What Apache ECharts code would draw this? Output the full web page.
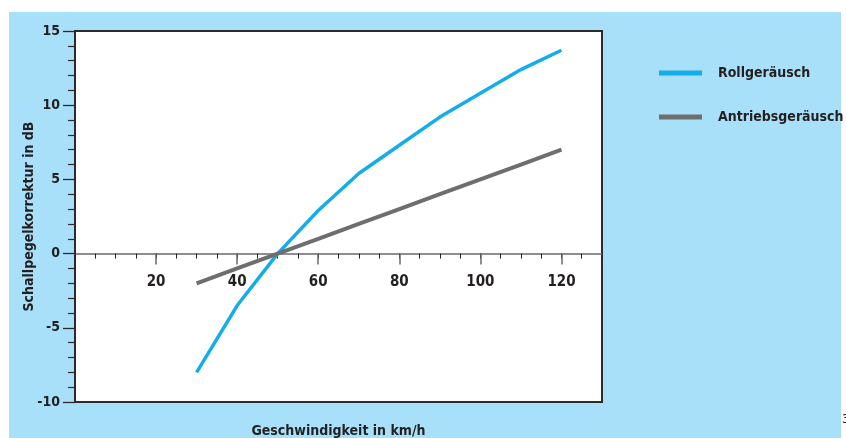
<!DOCTYPE html>
<html>
<head>
<meta charset="utf-8">
<script src="https://cdn.jsdelivr.net/npm/echarts@6/dist/echarts.min.js"></script>
<style>
html,body{margin:0;padding:0;background:#fff;}
#bg{position:absolute;left:9px;top:12px;width:832px;height:426px;background:#a8e0f9;}
#chart{position:absolute;left:0;top:0;width:846px;height:438px;}
</style>
</head>
<body>
<div id="bg"></div>
<div id="chart"></div>
<script>
const speeds = [30, 40, 50, 60, 70, 80, 90, 100, 110, 120];
const rollNoise = [-8, -3.5, 0, 2.9, 5.4, 7.3, 9.2, 10.8, 12.4, 13.7];
const driveNoise = [-2, -1, 0, 1, 2, 3, 4, 5, 6, 7];
const xLabels = [20, 40, 60, 80, 100, 120];
const seriesNames = ['Rollgeräusch', 'Antriebsgeräusch'];

const FONT = '"DejaVu Sans Condensed", sans-serif';
const TXT = '#231f20';
const FS = 14;
// plot-box geometry (pixels) used only for layout
const GRID = { left: 75, top: 31, right: 244, bottom: 36 };
const Y_MIN = -10, Y_MAX = 15;
const plotH = 438 - GRID.top - GRID.bottom;
const zeroOffset = -plotH * (0 - Y_MIN) / (Y_MAX - Y_MIN);

const chart = echarts.init(document.getElementById('chart'));
chart.setOption({
  animation: false,
  textStyle: { fontFamily: FONT },
  grid: Object.assign({
    outerBoundsMode: 'none', containLabel: false,
    show: true, backgroundColor: '#ffffff', borderColor: '#2b2b2b', borderWidth: 2
  }, GRID),
  legend: {
    orient: 'vertical', left: 659, top: 66, padding: 0,
    itemWidth: 43, itemHeight: 5, itemGap: 30,
    icon: 'rect',
    textStyle: { fontFamily: FONT, fontSize: FS, fontWeight: 'bold', color: TXT, padding: [0, 0, 0, 11] },
    data: seriesNames
  },
  xAxis: [
    {
      type: 'value', min: 0, max: 130, interval: 5, position: 'bottom',
      axisLine: { onZero: true, onZeroAxisIndex: 0, lineStyle: { color: '#6a6a6a', width: 1.5 } },
      axisTick: { show: true, length: 5, lineStyle: { color: '#222', width: 1 } },
      axisLabel: { show: false },
      splitLine: { show: false }
    },
    {
      type: 'value', min: 0, max: 130, position: 'bottom', offset: zeroOffset,
      axisLine: { show: false, onZero: false },
      axisTick: { show: true, length: 11, customValues: xLabels, lineStyle: { color: '#6a6a6a', width: 1.5 } },
      axisLabel: { show: true, customValues: xLabels, margin: 21, fontFamily: FONT, fontSize: 15, fontWeight: 'bold', color: TXT },
      splitLine: { show: false },
      name: 'Geschwindigkeit in km/h', nameLocation: 'middle', nameGap: 171,
      nameTextStyle: { fontFamily: FONT, fontSize: FS, fontWeight: 'bold', color: TXT }
    }
  ],
  yAxis: {
    type: 'value', min: Y_MIN, max: Y_MAX, interval: 5,
    axisLine: { show: true, onZero: false, lineStyle: { color: '#2b2b2b', width: 2 } },
    axisTick: { show: true, length: 12, lineStyle: { color: '#2b2b2b', width: 1.3 } },
    minorTick: { show: true, splitNumber: 5, length: 7, lineStyle: { color: '#2b2b2b', width: 1.2 } },
    axisLabel: { margin: 15, fontFamily: FONT, fontSize: FS, fontWeight: 'bold', color: TXT },
    splitLine: { show: false },
    name: 'Schallpegelkorrektur in dB', nameLocation: 'middle', nameGap: 39, nameRotate: 90,
    nameMoveOverlap: false,
    nameTextStyle: { fontFamily: FONT, fontSize: FS, fontWeight: 'bold', color: TXT }
  },
  graphic: [
    { type: 'text', left: 842, top: 413, style: { text: '3', fontFamily: FONT, fontSize: 13, fill: TXT } }
  ],
  series: [
    {
      name: seriesNames[0], type: 'line', xAxisIndex: 0, symbol: 'none',
      data: speeds.map((s, i) => [s, rollNoise[i]]),
      lineStyle: { color: '#13aee9', width: 3.5 }, itemStyle: { color: '#13aee9' }
    },
    {
      name: seriesNames[1], type: 'line', xAxisIndex: 0, symbol: 'none',
      data: speeds.map((s, i) => [s, driveNoise[i]]),
      lineStyle: { color: '#6e6e6e', width: 4 }, itemStyle: { color: '#6e6e6e' }
    }
  ]
});
</script>
</body>
</html>
